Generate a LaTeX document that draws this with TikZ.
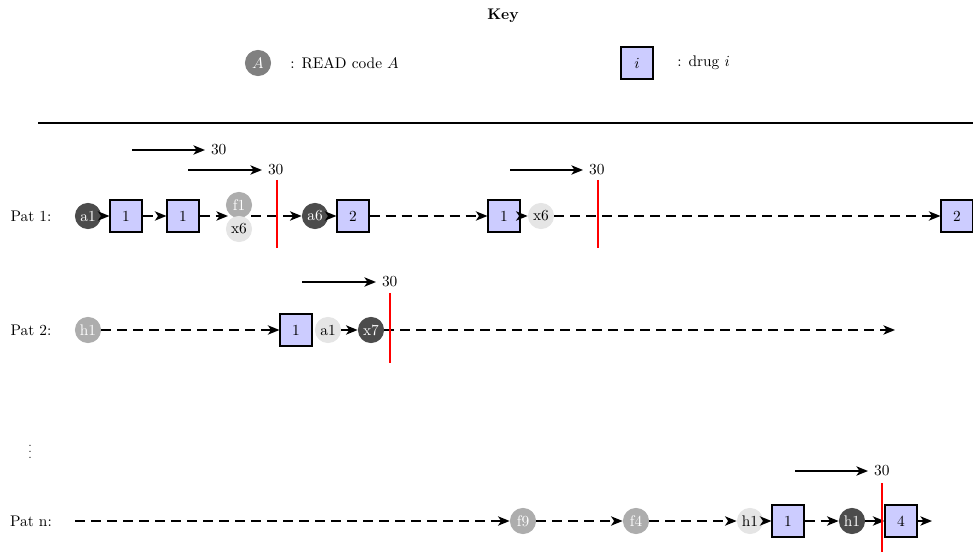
\documentclass[tikz,border=0pt]{standalone}
\usetikzlibrary{arrows.meta}

\tikzset{
	drug/.style={draw, line width=1.2pt, fill=blue!20, minimum size=20.3pt, inner sep=0pt},
	codedark/.style={circle, fill=black!70, text=white, minimum size=17pt, inner sep=0pt},
	codemid/.style={circle, fill=black!32, text=white, minimum size=17pt, inner sep=0pt},
	codelight/.style={circle, fill=black!10, minimum size=17pt, inner sep=0pt},
	codekey/.style={circle, fill=black!50, text=white, minimum size=17pt, inner sep=0pt},
	link/.style={line width=1.2pt, -{Stealth[length=7.5pt, width=6pt, inset=2pt]}},
	gap/.style={link, dash pattern=on 6.5pt off 3.9pt},
	cutoff/.style={draw=red, line width=1.3pt},
	window/.style={line width=1.2pt, -{Stealth[length=7.5pt, width=6pt, inset=2pt]}}
}

\begin{document}
\begin{tikzpicture}[x=0.65pt, y=-0.65pt]

		\useasboundingbox (0, 0) rectangle (973, 557);

		% key
		\node (key) at (503, 16) {\textbf{Key}};
		\node [codekey] (keycode) at (258, 63) {$A$};
		\node [anchor=west] (keycodetxt) at (285, 63) {: READ code $A$};
		\node [drug] (keydrug) at (637, 63) {$i$};
		\node [anchor=west] (keydrugtxt) at (672, 63) {: drug $i$};

		\draw [line width=1.2pt] (38, 123) -- (973, 123);

		% patient 1
		\node (lab1) at (31, 216) {Pat 1:};
		\node [codedark] (p1a) at (88, 216) {a1};
		\node [drug] (p1b) at (126, 216) {1};
		\node [drug] (p1c) at (183, 216) {1};
		\node [codemid] (p1d) at (239, 205) {f1};
		\node [codelight] (p1e) at (239, 229) {x6};
		\coordinate (p1in) at (228, 216);
		\coordinate (p1out) at (251, 216);
		\node [codedark] (p1f) at (315, 216) {a6};
		\node [drug] (p1g) at (353, 216) {2};
		\node [drug] (p1h) at (504, 216) {1};
		\node [codelight] (p1i) at (541, 216) {x6};
		\node [drug] (p1j) at (957, 216) {2};

		\draw [link] (p1a) -- (p1b);
		\draw [gap] (p1b) -- (p1c);
		\draw [gap] (p1c) -- (p1in);
		\draw [gap] (p1out) -- (p1f);
		\draw [link] (p1f) -- (p1g);
		\draw [gap] (p1g) -- (p1h);
		\draw [link] (p1h) -- (p1i);
		\draw [gap] (p1i) -- (p1j);

		\coordinate (cut1top) at (277, 180);
		\coordinate (cut1bot) at (277, 248);
		\draw [cutoff] (cut1top) -- (cut1bot);
		\coordinate (cut2top) at (598, 180);
		\coordinate (cut2bot) at (598, 248);
		\draw [cutoff] (cut2top) -- (cut2bot);

		\coordinate (win1a) at (132, 150);
		\coordinate (win1b) at (205, 150);
		\draw [window] (win1a) -- (win1b) node [right] {30};
		\coordinate (win2a) at (188, 170);
		\coordinate (win2b) at (262, 170);
		\draw [window] (win2a) -- (win2b) node [right] {30};
		\coordinate (win3a) at (510, 170);
		\coordinate (win3b) at (583, 170);
		\draw [window] (win3a) -- (win3b) node [right] {30};

		% patient 2
		\node (lab2) at (31, 330) {Pat 2:};
		\node [codemid] (p2a) at (88, 330) {h1};
		\node [drug] (p2b) at (296, 330) {1};
		\node [codelight] (p2c) at (328, 330) {a1};
		\node [codedark] (p2d) at (371, 330) {x7};
		\coordinate (p2end) at (895, 330);

		\draw [gap] (p2a) -- (p2b);
		\draw [link] (p2c) -- (p2d);
		\draw [gap] (p2d) -- (p2end);

		\coordinate (cut3top) at (390, 293);
		\coordinate (cut3bot) at (390, 363);
		\draw [cutoff] (cut3top) -- (cut3bot);

		\coordinate (win4a) at (302, 282);
		\coordinate (win4b) at (376, 282);
		\draw [window] (win4a) -- (win4b) node [right] {30};

		\node (dots) at (30, 447) {\scriptsize$\vdots$};

		% patient n
		\node (labn) at (31, 521) {Pat n:};
		\coordinate (pnstart) at (75, 521);
		\node [codemid] (pna) at (523, 521) {f9};
		\node [codemid] (pnb) at (636, 521) {f4};
		\node [codelight] (pnc) at (750, 521) {h1};
		\node [drug] (pnd) at (788, 521) {1};
		\node [codedark] (pne) at (852, 521) {h1};
		\node [drug] (pnf) at (901, 521) {4};
		\coordinate (pnend) at (932, 521);

		\draw [gap] (pnstart) -- (pna);
		\draw [gap] (pna) -- (pnb);
		\draw [gap] (pnb) -- (pnc);
		\draw [link] (pnc) -- (pnd);
		\draw [gap] (pnd) -- (pne);
		\draw [link] (pne) -- (pnf);
		\draw [link] (pnf) -- (pnend);

		\coordinate (cut4top) at (882, 483);
		\coordinate (cut4bot) at (882, 552);
		\draw [cutoff] (cut4top) -- (cut4bot);

		\coordinate (win5a) at (795, 471);
		\coordinate (win5b) at (868, 471);
		\draw [window] (win5a) -- (win5b) node [right] {30};
	\end{tikzpicture}
\end{document}
